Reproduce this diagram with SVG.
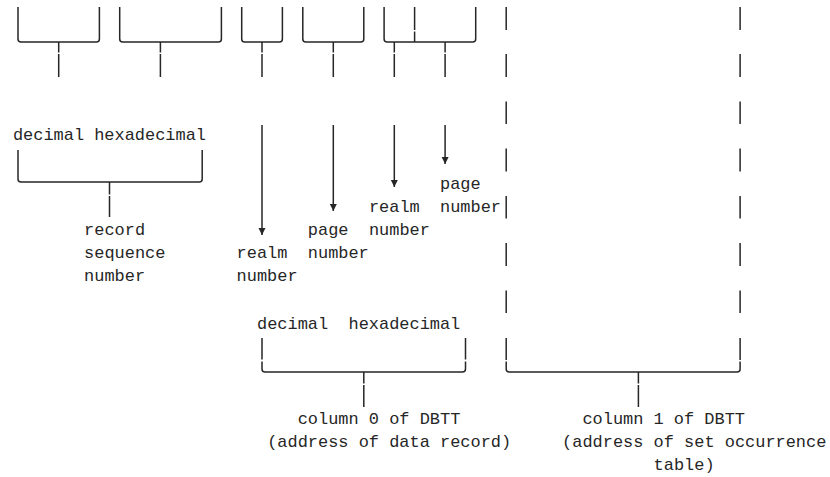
<svg xmlns="http://www.w3.org/2000/svg" width="830" height="477" viewBox="0 0 830 477">
<style>
.ln{stroke:#262626;stroke-width:1.5;fill:none}
.t{font-family:"Liberation Mono","DejaVu Sans Mono",monospace;font-size:16.95px;fill:#262626;white-space:pre}
</style>
<defs>
<marker id="ah" markerUnits="userSpaceOnUse" markerWidth="8" markerHeight="8" refX="7" refY="3.5" orient="auto"><path d="M0,0 L7,3.5 L0,7 Z" fill="#262626"/></marker>
</defs>
<rect width="830" height="477" fill="#ffffff"/>

<g id="top-brackets">
<path class="ln" d="M18,7 V39 Q18,42 21,42 H96.4 Q99.4,42 99.4,39 V7"/>
<path class="ln" d="M119.7,7 V39 Q119.7,42 122.7,42 H218.4 Q221.4,42 221.4,39 V7"/>
<path class="ln" d="M241.7,7 V39 Q241.7,42 244.7,42 H279.4 Q282.4,42 282.4,39 V7"/>
<path class="ln" d="M302.8,7 V39 Q302.8,42 305.8,42 H360.8 Q363.8,42 363.8,39 V7"/>
<path class="ln" d="M384.1,7 V39 Q384.1,42 387.1,42 H472.7 Q475.7,42 475.7,39 V7"/>
<path class="ln" d="M414.6,7 V30 M414.6,31.5 V42"/>
</g>

<g id="connectors">
<!-- top stems -->
<path class="ln" d="M58.7,42 V52.5 M58.7,54 V77"/>
<path class="ln" d="M160.4,42 V52.5 M160.4,54 V77"/>
<path class="ln" d="M262,42 V52.5 M262,54 V77"/>
<path class="ln" d="M333.3,42 V52.5 M333.3,54 V77"/>
<path class="ln" d="M394.3,42 V52.5 M394.3,54 V77"/>
<path class="ln" d="M445.1,42 V52.5 M445.1,54 V77"/>
<!-- arrows -->
<line class="ln" x1="262" y1="125" x2="262" y2="235" marker-end="url(#ah)"/>
<line class="ln" x1="333.3" y1="125" x2="333.3" y2="211" marker-end="url(#ah)"/>
<line class="ln" x1="394.3" y1="125" x2="394.3" y2="187" marker-end="url(#ah)"/>
<line class="ln" x1="445.1" y1="125" x2="445.1" y2="164" marker-end="url(#ah)"/>
<!-- right dashed columns -->
<path class="ln" d="M506.2,7 V30 M506.2,54 V77 M506.2,101.5 V124 M506.2,148.5 V171.5 M506.2,196 V218.5 M506.2,243 V266 M506.2,290.5 V313 M506.2,338 V360"/>
<path class="ln" d="M740.1,7 V30 M740.1,54 V77 M740.1,101.5 V124 M740.1,148.5 V171.5 M740.1,196 V218.5 M740.1,243 V266 M740.1,290.5 V313 M740.1,338 V360"/>
</g>

<g id="record-sequence">
<text class="t" x="12.9" y="140">decimal hexadecimal</text>
<path class="ln" d="M18,150 V179 Q18,182 21,182 H199.2 Q202.2,182 202.2,179 V150"/>
<path class="ln" d="M109.5,182 V194.5 M109.5,196 V217"/>
<text class="t" x="84.1" y="235">record</text>
<text class="t" x="84.1" y="258">sequence</text>
<text class="t" x="84.1" y="281">number</text>
</g>

<g id="realm-number-1">
<text class="t" x="236.6" y="258">realm</text>
<text class="t" x="236.6" y="281">number</text>
</g>
<g id="page-number-1">
<text class="t" x="307.8" y="235">page</text>
<text class="t" x="307.8" y="258">number</text>
</g>
<g id="realm-number-2">
<text class="t" x="368.9" y="212">realm</text>
<text class="t" x="368.9" y="235">number</text>
</g>
<g id="page-number-2">
<text class="t" x="440" y="189">page</text>
<text class="t" x="440" y="212">number</text>
</g>

<g id="column0">
<text class="t" x="257" y="329" xml:space="preserve">decimal  hexadecimal</text>
<path class="ln" d="M262,338 V359.5 M262,361.5 V369 Q262,372 265,372 H462.5 Q465.5,372 465.5,369 V361.5 M465.5,359.5 V338"/>
<path class="ln" d="M363.8,372 V383.5 M363.8,385 V407"/>
<text class="t" x="297.7" y="424">column 0 of DBTT</text>
<text class="t" x="267.2" y="447">(address of data record)</text>
</g>

<g id="column1">
<path class="ln" d="M506.2,361.5 V369 Q506.2,372 509.2,372 H737.1 Q740.1,372 740.1,369 V361.5"/>
<path class="ln" d="M638.4,372 V383.5 M638.4,385 V407"/>
<text class="t" x="582.4" y="424">column 1 of DBTT</text>
<text class="t" x="562.1" y="447">(address of set occurrence</text>
<text class="t" x="653.6" y="470">table)</text>
</g>
</svg>
